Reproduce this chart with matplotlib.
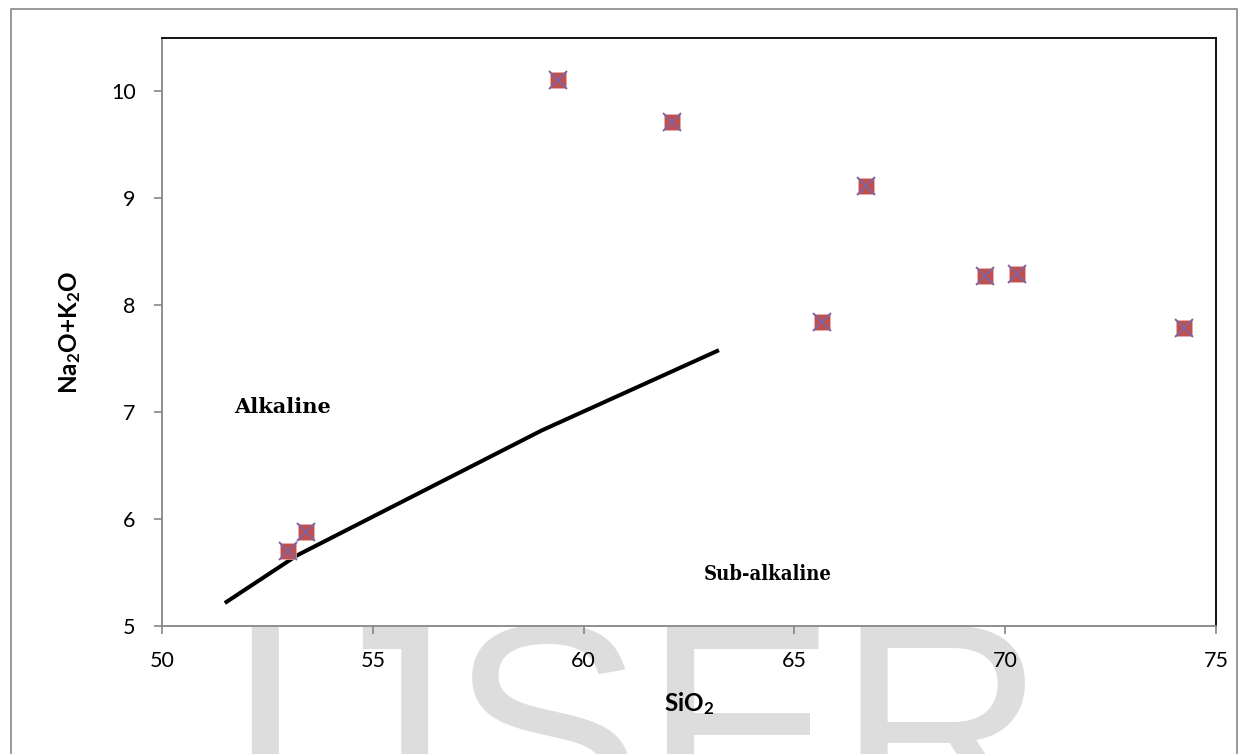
import matplotlib
matplotlib.use("Agg")
import matplotlib.pyplot as plt
from matplotlib.patches import Rectangle

# ---- data ----
sio2 = [52.99, 53.41, 59.40, 62.10, 65.65, 66.70, 69.52, 70.29, 74.23]
alk = [5.70, 5.88, 10.11, 9.71, 7.84, 9.12, 8.27, 8.29, 7.79]
line_x = [51.49, 53.20, 59.01, 63.21]
line_y = [5.215, 5.66, 6.83, 7.58]
xticks = [50, 55, 60, 65, 70, 75]
yticks = [5, 6, 7, 8, 9, 10]

W, H = 1248, 754
plt.rcParams['font.family'] = ['Lato', 'DejaVu Sans']
plt.rcParams['mathtext.fontset'] = 'custom'
plt.rcParams['mathtext.bf'] = 'Lato:bold'
plt.rcParams['mathtext.rm'] = 'Lato:bold'
plt.rcParams['mathtext.default'] = 'bf'

fig = plt.figure(figsize=(W / 100, H / 100), dpi=100)
fig.patch.set_facecolor('white')

# outer chart frame
fig.patches.append(Rectangle((11 / W, -0.05), (1237 - 11) / W, 1.05 - 9 / H,
                             transform=fig.transFigure, fill=False,
                             edgecolor='#898989', linewidth=1.2, zorder=-2))

# watermark
fig.text(224 / W, (H - 826) / H, 'IJSER', fontsize=209, family='Liberation Sans',
         color='#dddddd', ha='left', va='baseline', zorder=-1)

ax = fig.add_axes([162 / W, 1 - 626 / H, (1216 - 162) / W, (626 - 38) / H])
ax.set_facecolor('white')
ax.set_zorder(1)

ax.plot(line_x, line_y, color='black', linewidth=2.9, solid_capstyle='butt', zorder=2)
ax.plot(sio2, alk, linestyle='none', marker='s', markersize=11,
        markerfacecolor='#c0504d', markeredgecolor='#e8b0ae', markeredgewidth=0.5, zorder=3)
ax.plot(sio2, alk, linestyle='none', marker='x', markersize=13.5,
        markeredgecolor='#8064a2', markeredgewidth=1.4, zorder=4)

ax.set_xlim(50, 75)
ax.set_ylim(5, 10.5)
ax.set_xticks(xticks)
ax.set_yticks(yticks)
ax.tick_params(axis='both', direction='out', length=6, width=1.2, color='#868686',
               labelsize=15.5, labelcolor='black')
ax.tick_params(axis='x', pad=12)
ax.tick_params(axis='y', pad=13)

for s in ['left', 'bottom']:
    ax.spines[s].set_color('#868686')
    ax.spines[s].set_linewidth(1.3)
for s in ['top', 'right']:
    ax.spines[s].set_color('black')
    ax.spines[s].set_linewidth(1.3)

ax.set_xlabel(r'SiO$_2$', fontsize=17.5, fontweight='bold', labelpad=14)
ax.set_ylabel(r'Na$_2$O+K$_2$O', fontsize=17.5, fontweight='bold', labelpad=20)

ax.text(52.87, 7.05, 'Alkaline', family='DejaVu Serif', fontweight='bold',
        fontsize=15, ha='center', va='center')
ax.text(64.37, 5.49, 'Sub-alkaline', family='DejaVu Serif', fontweight='bold',
        fontstretch='condensed', fontsize=14.5, ha='center', va='center')

fig.savefig('out.png', dpi=100, facecolor='white')
